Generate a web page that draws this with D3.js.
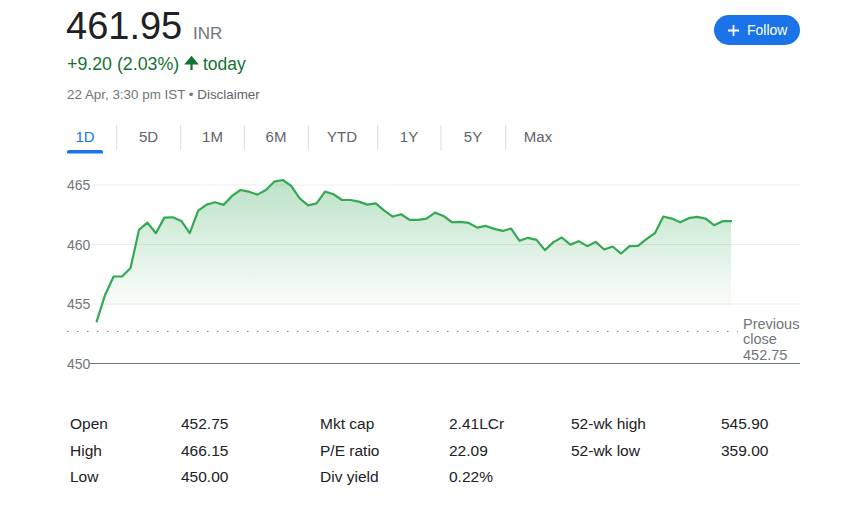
<!DOCTYPE html>
<html>
<head>
<meta charset="utf-8">
<script src="https://cdn.jsdelivr.net/npm/d3@7"></script>
<style>
  html, body { margin: 0; padding: 0; background: #fff; }
  svg { display: block; font-family: "Liberation Sans", Arial, sans-serif; }
</style>
</head>
<body>
<svg id="chart" width="848" height="505"></svg>
<script>
// ---- Data ----
const price = 461.95;
const currency = "INR";
const changeText = "+9.20 (2.03%)";
const dateText = "22 Apr, 3:30 pm IST";
const previousClose = 452.75;
const tabs = ["1D", "5D", "1M", "6M", "YTD", "1Y", "5Y", "Max"];
const yTicks = [450, 455, 460, 465];
const prices = [
  453.54, 455.78, 457.31, 457.31, 458.02, 461.23, 461.84, 460.95, 462.26, 462.29,
  461.98, 460.95, 462.85, 463.35, 463.55, 463.33, 464.08, 464.58, 464.44, 464.19,
  464.58, 465.28, 465.42, 464.92, 463.88, 463.29, 463.46, 464.44, 464.22, 463.74,
  463.74, 463.60, 463.35, 463.46, 462.85, 462.35, 462.54, 462.07, 462.07, 462.18,
  462.68, 462.40, 461.87, 461.90, 461.81, 461.42, 461.56, 461.31, 461.14, 461.34,
  460.31, 460.56, 460.39, 459.53, 460.20, 460.59, 459.99, 460.28, 459.86, 460.22,
  459.58, 459.83, 459.24, 459.86, 459.89, 460.45, 460.95, 462.35, 462.18, 461.87,
  462.21, 462.32, 462.18, 461.62, 461.96, 461.96
];
const statLabels1 = ["Open", "High", "Low"];
const statValues1 = ["452.75", "466.15", "450.00"];
const statLabels2 = ["Mkt cap", "P/E ratio", "Div yield"];
const statValues2 = ["2.41LCr", "22.09", "0.22%"];
const statLabels3 = ["52-wk high", "52-wk low"];
const statValues3 = ["545.90", "359.00"];

// ---- Drawing ----
const svg = d3.select("#chart");
const green = "#34a853";
const grey = "#70757a";

// Header
svg.append("text").attr("x", 66).attr("y", 39).attr("font-size", 38).attr("fill", "#202124").text(price.toFixed(2));
svg.append("text").attr("x", 193).attr("y", 39).attr("font-size", 17).attr("fill", grey).text(currency);
svg.append("text").attr("x", 67).attr("y", 70).attr("font-size", 17.8).attr("fill", "#137333").text(changeText);
// up arrow
svg.append("path")
  .attr("d", "M191.5,70 L191.5,61 M186.5,63.5 L191.5,57.5 L196.5,63.5 Z")
  .attr("stroke", "#137333").attr("stroke-width", 2.2).attr("fill", "#137333");
svg.append("text").attr("x", 203).attr("y", 70).attr("font-size", 17.5).attr("fill", "#137333").text("today");
const dt = svg.append("text").attr("x", 67).attr("y", 99).attr("font-size", 13.4).attr("fill", grey);
dt.append("tspan").text(dateText + " • ");
dt.append("tspan").attr("fill", "#5f6368").text("Disclaimer");

// Follow button
svg.append("rect").attr("x", 714).attr("y", 15).attr("width", 86).attr("height", 30).attr("rx", 15).attr("fill", "#1a73e8");
svg.append("path").attr("d", "M733.5,25 L733.5,36 M728,30.5 L739,30.5").attr("stroke", "#fff").attr("stroke-width", 1.8);
svg.append("text").attr("x", 747).attr("y", 35).attr("font-size", 14).attr("fill", "#fff").text("Follow");

// Tabs
const tabX = {"1D": 85, "5D": 148.5, "1M": 212.5, "6M": 276, "YTD": 342, "1Y": 409, "5Y": 473, "Max": 538};
tabs.forEach((t, i) => {
  svg.append("text").attr("x", tabX[t]).attr("y", 142).attr("text-anchor", "middle")
    .attr("font-size", 15).attr("fill", i === 0 ? "#1a73e8" : "#5f6368").text(t);
});
[116.7, 180.7, 244.3, 308.3, 377.7, 441, 505.7].forEach(x => {
  svg.append("line").attr("x1", x).attr("x2", x).attr("y1", 125).attr("y2", 150).attr("stroke", "#dadce0").attr("stroke-width", 1);
});
svg.append("path").attr("d", "M67,153.5 L67,152 Q67,150 69,150 L101,150 Q103,150 103,152 L103,153.5 Z").attr("fill", "#1a73e8");

// Chart scales
const x = d3.scaleLinear().domain([0, prices.length - 1]).range([96.7, 731]);
const y = d3.scaleLinear().domain([450, 465]).range([363.5, 185]);

// Gridlines
svg.append("g").selectAll("line").data(yTicks.filter(d => d !== 450)).join("line")
  .attr("x1", 92).attr("x2", 800).attr("y1", d => y(d)).attr("y2", d => y(d))
  .attr("stroke", "#ececec").attr("stroke-width", 1);
// Y labels
svg.append("g").selectAll("text").data(yTicks).join("text")
  .attr("x", 67).attr("y", d => y(d) + 5).attr("font-size", 14).attr("fill", grey).text(d => d);
// Baseline
svg.append("line").attr("x1", 90).attr("x2", 800).attr("y1", y(450)).attr("y2", y(450)).attr("stroke", grey).attr("stroke-width", 1.2);

// Gradient
const defs = svg.append("defs");
const grad = defs.append("linearGradient").attr("id", "g1").attr("gradientUnits", "userSpaceOnUse")
  .attr("x1", 0).attr("x2", 0).attr("y1", y(465.5)).attr("y2", y(454.7));
grad.append("stop").attr("offset", 0).attr("stop-color", green).attr("stop-opacity", 0.33);
grad.append("stop").attr("offset", 1).attr("stop-color", green).attr("stop-opacity", 0.02);

const area = d3.area().x((d, i) => x(i)).y0(y(454.7)).y1(d => y(d));
svg.append("path").datum(prices).attr("d", area).attr("fill", "url(#g1)");

// Previous close dotted line
svg.append("line").attr("x1", 67).attr("x2", 738).attr("y1", Math.round(y(previousClose)) + 0.5).attr("y2", Math.round(y(previousClose)) + 0.5)
  .attr("stroke", "#80868b").attr("stroke-width", 1).attr("stroke-dasharray", "1.5,8.5");
const pc = svg.append("text").attr("x", 743).attr("font-size", 14.5).attr("fill", grey);
pc.append("tspan").attr("x", 743).attr("y", 328.5).text("Previous");
pc.append("tspan").attr("x", 743).attr("y", 344).text("close");
pc.append("tspan").attr("x", 743).attr("y", 359.5).text(previousClose.toFixed(2));

// Price line
const line = d3.line().x((d, i) => x(i)).y(d => y(d));
svg.append("path").datum(prices).attr("d", line).attr("fill", "none")
  .attr("stroke", green).attr("stroke-width", 2.2).attr("stroke-linejoin", "round").attr("stroke-linecap", "round");

// Stats table
const rowY = [429, 455.5, 482];
function col(labels, values, lx, vx) {
  labels.forEach((l, i) => {
    svg.append("text").attr("x", lx).attr("y", rowY[i]).attr("font-size", 15.5).attr("fill", "#202124").text(l);
    svg.append("text").attr("x", vx).attr("y", rowY[i]).attr("font-size", 15.5).attr("fill", "#202124").text(values[i]);
  });
}
col(statLabels1, statValues1, 70, 181);
col(statLabels2, statValues2, 320, 449);
col(statLabels3, statValues3, 571, 721);
</script>
</body>
</html>
